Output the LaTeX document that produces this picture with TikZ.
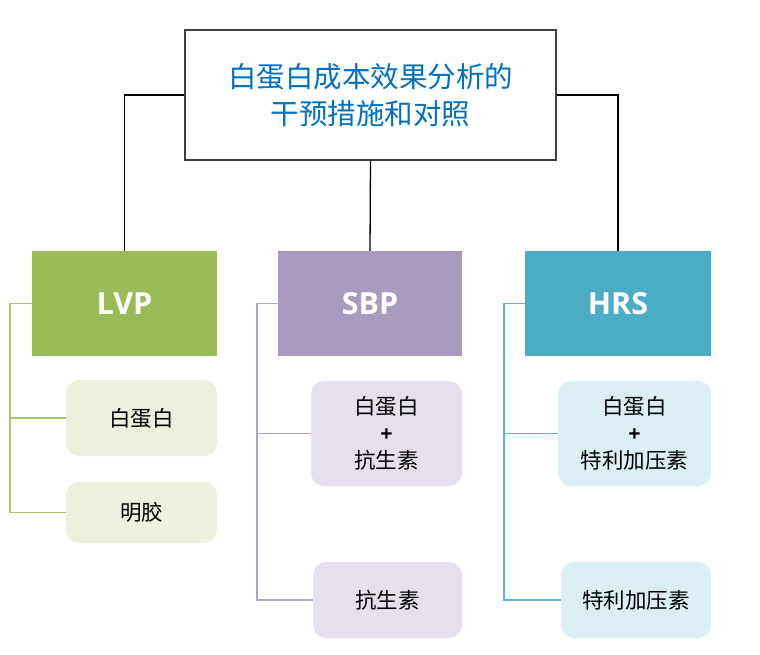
\documentclass[tikz,border=0pt]{standalone}
\usepackage{fontspec}
\setmainfont{Open Sans}
\newfontfamily\cjk{Noto Sans CJK SC}
\usetikzlibrary{positioning}
\definecolor{gMain}{HTML}{9BBB59}
\definecolor{gLight}{HTML}{EBF1DE}
\definecolor{gLine}{HTML}{A9C66F}
\definecolor{pMain}{HTML}{A99BBF}
\definecolor{pLight}{HTML}{E5E0EC}
\definecolor{pLine}{HTML}{B3A2C7}
\definecolor{bMain}{HTML}{4BACC6}
\definecolor{bLight}{HTML}{DBEEF3}
\definecolor{bLine}{HTML}{5CB5CC}
\definecolor{titleBlue}{HTML}{0070C0}
\newcommand{\plusmark}{{\normalfont\bfseries +}}
\tikzset{
  headbox/.style={draw=none, minimum width=185pt, minimum height=105pt, inner sep=0pt,
    text=white, font=\fontsize{30.5}{32}\selectfont\bfseries},
  subbox/.style={rounded corners=13pt, draw=none, inner sep=0pt, align=center,
    font=\fontsize{21.5}{27}\selectfont\cjk},
  link/.style={line width=1.3pt},
}
\begin{document}
\begin{tikzpicture}[x=1pt,y=-1pt]
\useasboundingbox (0,0) rectangle (760,655);
% title
\node[draw=black!75, line width=1.2pt, minimum width=371pt, minimum height=130pt, inner sep=0pt,
  align=center, text=titleBlue, font=\fontsize{28.5}{37}\selectfont\cjk]
  (title) at (370.5,95) {白蛋白成本效果分析的\\干预措施和对照};
% heads
\node[headbox, fill=gMain] (lvp) at (124.5,303.5) {LVP};
\node[headbox, fill=pMain, minimum width=184pt] (sbp) at (370,303.5) {SBP};
\node[headbox, fill=bMain, minimum width=186pt] (hrs) at (618,303.5) {HRS};
% LVP subs
\node[subbox, fill=gLight, minimum width=151pt, minimum height=76pt] (l1) at (141.5,418) {白蛋白};
\node[subbox, fill=gLight, minimum width=151pt, minimum height=61pt] (l2) at (141.5,512.5) {明胶};
% SBP subs
\node[subbox, fill=pLight, minimum width=151pt, minimum height=105pt] (s1) at (386.5,433.5)
  {白蛋白\\\plusmark\\抗生素};
\node[subbox, fill=pLight, minimum width=149pt, minimum height=76pt] (s2) at (387.5,600) {抗生素};
% HRS subs
\node[subbox, fill=bLight, minimum width=153pt, minimum height=105pt] (h1) at (634.5,433.5)
  {白蛋白\\\plusmark\\特利加压素};
\node[subbox, fill=bLight, minimum width=150pt, minimum height=76pt] (h2) at (636,600) {特利加压素};
% top connectors
\draw[link, black] (title.west) -| (lvp.north);
\draw[link, black] (title.south) -- (sbp.north);
\draw[link, black] (title.east) -| (hrs.north);
% brackets
\coordinate (lb) at (10,303.5);
\coordinate (sb) at (257,303.5);
\coordinate (hb) at (504,303.5);
\draw[link, gLine] (lvp.west) -- (lb) |- (l2.west);
\draw[link, gLine] (lb |- l1.west) -- (l1.west);
\draw[link, pLine] (sbp.west) -- (sb) |- (s2.west);
\draw[link, pLine] (sb |- s1.west) -- (s1.west);
\draw[link, bLine] (hrs.west) -- (hb) |- (h2.west);
\draw[link, bLine] (hb |- h1.west) -- (h1.west);
\end{tikzpicture}
\end{document}
